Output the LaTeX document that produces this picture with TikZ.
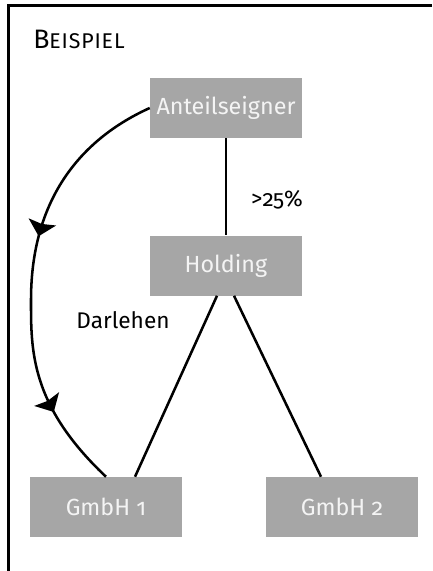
\documentclass[tikz,border=0pt]{standalone}
\usepackage{fontspec}
\setmainfont{Fira Sans}[Numbers=OldStyle]
\usetikzlibrary{arrows.meta,decorations.markings}
\definecolor{boxgray}{HTML}{A6A6A6}
\definecolor{boxtext}{HTML}{F4F4F4}
\begin{document}
\begin{tikzpicture}[x=0.75pt,y=-0.75pt,
  orgbox/.style={fill=boxgray, text=boxtext, minimum width=114pt, minimum height=45pt, inner sep=0pt, font=\fontsize{17.5}{20}\selectfont},
  conn/.style={line width=1.9pt},
  lbl/.style={font=\fontsize{17}{20}\selectfont, inner sep=0pt},
  flowtip/.style={decoration={markings,
      mark=at position 0.40 with {\arrow{Stealth[length=11pt,width=21pt,inset=1.5pt]}},
      mark=at position 0.81 with {\arrow{Stealth[length=11pt,width=21pt,inset=1.5pt]}}},
    postaction={decorate}}]
\useasboundingbox (0,0) rectangle (432,571);
\draw[line width=2.2pt] (432,5.3) -- (8.7,5.3) -- (8.7,571);
\node[orgbox] (anteil) at (226,108) {Anteilseigner};
\node[orgbox] (holding) at (226,265.5) {Holding};
\node[orgbox] (g1) at (106,507) {GmbH 1};
\node[orgbox] (g2) at (342,507) {GmbH 2};
\coordinate (dl) at (31,300);
\draw[conn] (anteil.south) -- (holding.north);
\draw[conn] ([xshift=-6.75pt]holding.south) -- ([xshift=21.75pt]g1.north);
\draw[conn] ([xshift=6pt]holding.south) -- ([xshift=-15.75pt]g2.north);
\draw[conn, flowtip] (anteil.west) .. controls (90,135) and (31,190) .. (dl)
  .. controls (31,350) and (30,405) .. (g1.north);
\node[lbl] (pct) at (277,200) {>25\%};
\node[lbl] (darl) at (123,320) {Darlehen};
\node[lbl, anchor=base west] (bsp) at (33,48) {\addfontfeature{LetterSpace=4}\fontsize{20}{22}\selectfont B\fontsize{16}{18}\selectfont EISPIEL};
\end{tikzpicture}
\end{document}
